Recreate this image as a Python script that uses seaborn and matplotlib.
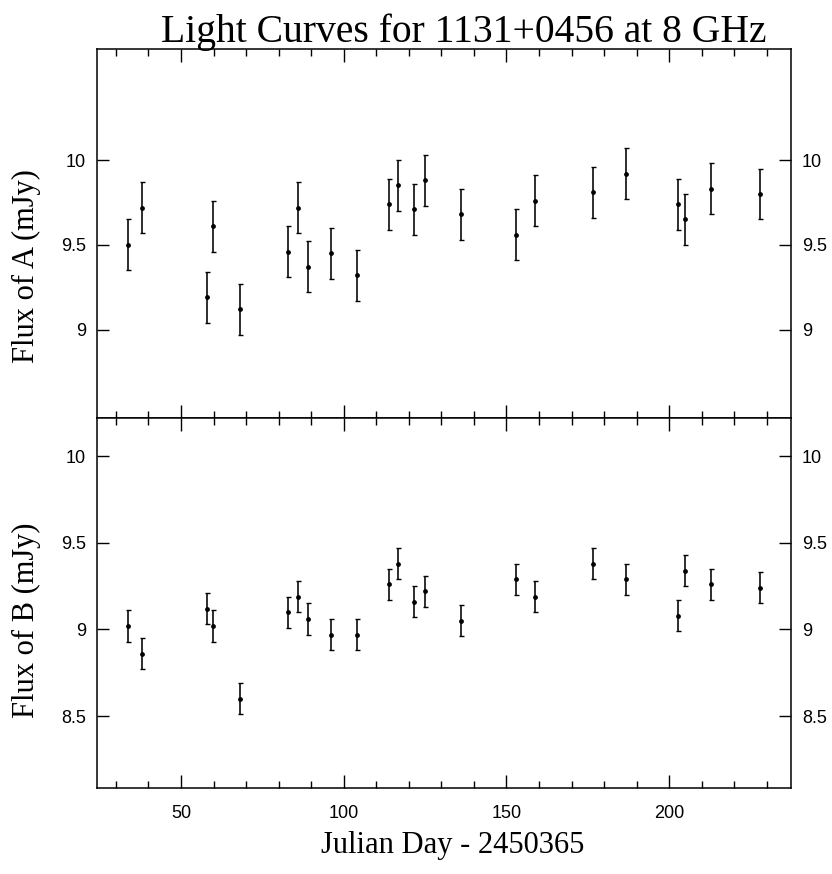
import matplotlib
matplotlib.use("Agg")
import matplotlib.pyplot as plt
import numpy as np
import pandas as pd
import seaborn as sns
from matplotlib.ticker import MultipleLocator, FixedLocator, FixedFormatter

# Observation epochs (Julian Day - 2450365)
days = [33.7, 38.0, 57.9, 59.9, 68.0, 82.8, 85.8, 89.0, 96.0, 104.0, 113.8,
        116.7, 121.7, 124.9, 136.0, 152.9, 158.8, 176.7, 186.7, 202.6, 204.7,
        212.7, 228.0]

# Image A flux densities and 1-sigma errors (mJy)
flux_a = [9.50, 9.72, 9.19, 9.61, 9.12, 9.46, 9.72, 9.37, 9.45, 9.32, 9.74,
          9.85, 9.71, 9.88, 9.68, 9.56, 9.76, 9.81, 9.92, 9.74, 9.65, 9.83,
          9.80]
err_a = [0.15] * 23

# Image B flux densities and 1-sigma errors (mJy)
flux_b = [9.02, 8.86, 9.12, 9.02, 8.60, 9.10, 9.19, 9.06, 8.97, 8.97, 9.26,
          9.38, 9.16, 9.22, 9.05, 9.29, 9.19, 9.38, 9.29, 9.08, 9.34, 9.26,
          9.24]
err_b = [0.09] * 23

ticks_a = [9, 9.5, 10]
ticklabels_a = ["9", "9.5", "10"]
ticks_b = [8.5, 9, 9.5, 10]
ticklabels_b = ["8.5", "9", "9.5", "10"]

title = "Light Curves for 1131+0456 at 8 GHz"
xlabel = "Julian Day - 2450365"
ylabel_a = "Flux of A (mJy)"
ylabel_b = "Flux of B (mJy)"

df = pd.DataFrame({"day": days, "A": flux_a, "eA": err_a,
                   "B": flux_b, "eB": err_b})

sns.set_theme(style="white")
plt.rcParams["font.family"] = ["Liberation Sans", "DejaVu Sans"]
serif = ["Liberation Serif", "DejaVu Serif"]

fig = plt.figure(figsize=(8.32, 8.74), dpi=100)
ax_a = fig.add_axes([0.1166, 0.5217, 0.8341, 0.4222])
ax_b = fig.add_axes([0.1166, 0.0984, 0.8341, 0.4233], sharex=ax_a)


def draw_panel(ax, col, ecol, ticks, ticklabels, ylim, ylabel, label_y):
    ax.errorbar(df["day"], df[col], yerr=df[ecol], fmt="none",
                ecolor="black", elinewidth=1.15, capsize=1.8, capthick=1.0,
                zorder=2)
    sns.scatterplot(data=df, x="day", y=col, ax=ax, color="black", s=12,
                    linewidth=0, zorder=3, legend=False)
    ax.set_ylim(*ylim)
    ax.yaxis.set_major_locator(FixedLocator(ticks))
    ax.yaxis.set_major_formatter(FixedFormatter(ticklabels))
    ax.set_ylabel(ylabel, family=serif, fontsize=22, color="black",
                  va="center")
    ax.yaxis.set_label_coords(-0.102, label_y)
    for sp in ax.spines.values():
        sp.set_visible(True)
        sp.set_color("black")
        sp.set_linewidth(1.1)
    ax.tick_params(axis="y", which="major", direction="in", length=8.5,
                   width=1.0, left=True, right=True, labelleft=True,
                   labelright=True, labelsize=13, pad=8, colors="black")
    ax.tick_params(axis="x", which="major", direction="in", length=9.5,
                   width=1.0, top=True, bottom=True, labelsize=13, pad=12,
                   colors="black")
    ax.tick_params(axis="x", which="minor", direction="in", length=5,
                   width=1.0, top=True, bottom=True, colors="black")


ax_a.set_xlim(24.2, 237.4)
ax_a.xaxis.set_major_locator(MultipleLocator(50))
ax_a.xaxis.set_minor_locator(MultipleLocator(10))

draw_panel(ax_a, "A", "eA", ticks_a, ticklabels_a, (8.478, 10.655),
           ylabel_a, 0.412)
draw_panel(ax_b, "B", "eB", ticks_b, ticklabels_b, (8.085, 10.22),
           ylabel_b, 0.454)

ax_a.tick_params(axis="x", labelbottom=False)
ax_a.set_xlabel("")
ax_b.set_xlabel(xlabel, family=serif, fontsize=22, color="black",
                va="center")
ax_b.xaxis.set_label_coords(0.513, -(846 - 788) / 370)

fig.text(464 / 832, 1 - 42 / 874, title, ha="center", va="baseline",
         family=serif, fontsize=28.5, color="black")

fig.savefig("out.png", dpi=100, facecolor="white")
